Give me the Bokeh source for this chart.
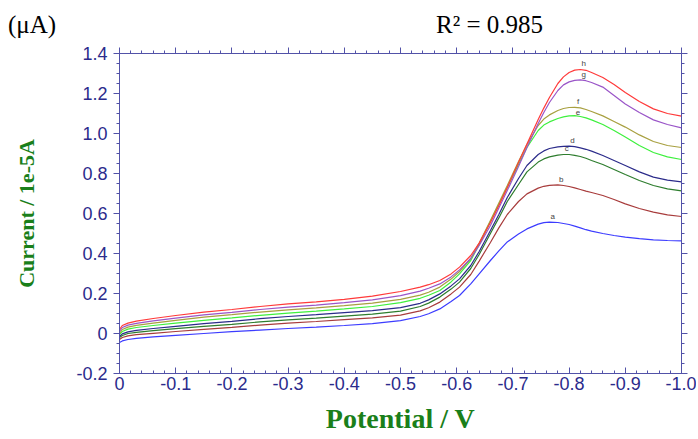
import numpy as np
from bokeh.plotting import figure
from bokeh.models import Range1d, LinearAxis, FixedTicker, CustomJSTickFormatter, ColumnDataSource, Div
from bokeh.layouts import column
from bokeh.core.properties import value
from bokeh.embed import file_html
from bokeh.resources import INLINE

# ---- data ----
potential = [0.0, -0.005, -0.015, -0.03, -0.06, -0.1, -0.15, -0.2, -0.25, -0.3, -0.35, -0.4, -0.45,
             -0.5, -0.535, -0.55, -0.57, -0.59, -0.605, -0.625, -0.64, -0.66, -0.675, -0.69, -0.71,
             -0.725, -0.745, -0.755, -0.765, -0.78, -0.79, -0.80, -0.81, -0.82, -0.83, -0.84,
             -0.86, -0.88, -0.9, -0.925, -0.95, -0.975, -1.0]

curve_a = [-0.045, -0.037, -0.030, -0.024, -0.017, -0.009, 0.000, 0.009, 0.017, 0.025, 0.032, 0.040, 0.049,
           0.064, 0.085, 0.099, 0.123, 0.160, 0.190, 0.248, 0.298, 0.365, 0.413, 0.458, 0.497,
           0.523, 0.547, 0.554, 0.557, 0.555, 0.550, 0.545, 0.537, 0.528, 0.519, 0.512,
           0.500, 0.490, 0.482, 0.474, 0.468, 0.465, 0.463]
curve_b = [-0.030, -0.020, -0.012, -0.006, 0.001, 0.010, 0.021, 0.031, 0.042, 0.052, 0.060, 0.069, 0.078,
           0.092, 0.113, 0.129, 0.157, 0.198, 0.232, 0.295, 0.362, 0.455, 0.528, 0.595, 0.660,
           0.698, 0.727, 0.736, 0.741, 0.743, 0.740, 0.735, 0.728, 0.720, 0.712, 0.705,
           0.690, 0.670, 0.648, 0.625, 0.607, 0.593, 0.585]
curve_c = [-0.020, -0.010, 0.000, 0.006, 0.014, 0.024, 0.036, 0.046, 0.058, 0.068, 0.077, 0.087, 0.097,
           0.112, 0.135, 0.152, 0.182, 0.222, 0.257, 0.325, 0.395, 0.500, 0.578, 0.660, 0.745,
           0.808, 0.857, 0.873, 0.883, 0.892, 0.895, 0.895, 0.891, 0.885, 0.876, 0.865,
           0.845, 0.820, 0.795, 0.765, 0.740, 0.723, 0.713]
curve_d = [-0.015, -0.002, 0.008, 0.016, 0.025, 0.036, 0.049, 0.061, 0.074, 0.085, 0.094, 0.104, 0.114,
           0.129, 0.151, 0.168, 0.198, 0.238, 0.273, 0.340, 0.410, 0.515, 0.595, 0.680, 0.775,
           0.840, 0.895, 0.913, 0.925, 0.933, 0.936, 0.937, 0.934, 0.928, 0.921, 0.912,
           0.890, 0.865, 0.840, 0.808, 0.782, 0.767, 0.758]
curve_e = [-0.005, 0.010, 0.022, 0.030, 0.040, 0.052, 0.066, 0.078, 0.091, 0.102, 0.112, 0.123, 0.135,
           0.154, 0.176, 0.191, 0.215, 0.258, 0.298, 0.365, 0.445, 0.560, 0.645, 0.730, 0.845,
           0.930, 1.015, 1.042, 1.058, 1.075, 1.083, 1.088, 1.089, 1.085, 1.078, 1.068,
           1.045, 1.015, 0.982, 0.940, 0.905, 0.883, 0.870]
curve_f = [0.000, 0.020, 0.032, 0.041, 0.052, 0.066, 0.082, 0.094, 0.107, 0.118, 0.128, 0.139, 0.152,
           0.171, 0.192, 0.206, 0.232, 0.272, 0.310, 0.375, 0.452, 0.565, 0.652, 0.740, 0.860,
           0.945, 1.040, 1.072, 1.093, 1.115, 1.125, 1.130, 1.131, 1.128, 1.120, 1.110,
           1.088, 1.060, 1.032, 0.993, 0.960, 0.940, 0.930]
curve_g = [0.010, 0.030, 0.042, 0.051, 0.063, 0.077, 0.093, 0.106, 0.120, 0.132, 0.142, 0.154, 0.168,
           0.189, 0.212, 0.226, 0.248, 0.283, 0.318, 0.375, 0.440, 0.540, 0.628, 0.715, 0.835,
           0.930, 1.050, 1.105, 1.155, 1.215, 1.243, 1.258, 1.266, 1.268, 1.264, 1.255,
           1.232, 1.190, 1.148, 1.105, 1.068, 1.045, 1.028]
curve_h = [0.020, 0.040, 0.052, 0.062, 0.075, 0.090, 0.107, 0.120, 0.135, 0.148, 0.158, 0.171, 0.187,
           0.210, 0.232, 0.244, 0.265, 0.298, 0.332, 0.390, 0.452, 0.555, 0.640, 0.730, 0.855,
           0.948, 1.070, 1.127, 1.180, 1.250, 1.283, 1.305, 1.317, 1.320, 1.316, 1.305,
           1.280, 1.245, 1.205, 1.160, 1.123, 1.100, 1.087]

curve_names = ["a", "b", "c", "d", "e", "f", "g", "h"]
curve_values = [curve_a, curve_b, curve_c, curve_d, curve_e, curve_f, curve_g, curve_h]
curve_colors = ["#3c3cff", "#a83c3c", "#2e7d2e", "#2b2b8a", "#3ef03e", "#a8a040", "#9a55c8", "#ff3a3a"]

x_ticks = [0.0, -0.1, -0.2, -0.3, -0.4, -0.5, -0.6, -0.7, -0.8, -0.9, -1.0]
y_ticks = [-0.2, 0.0, 0.2, 0.4, 0.6, 0.8, 1.0, 1.2, 1.4]

x_label = "Potential / V"
y_label = "Current / 1e-5A"
unit_text = "(\u03bcA)"
r2_text = "R\u00b2 = 0.985"

W = 696
HEADER_H = 40
FIG_H = 398

# ---- header line with the two texts ----
header = Div(
    text=(f'<div style="position:relative;width:{W}px;height:{HEADER_H}px;'
          'font-family:\'Liberation Serif\';font-size:25px;color:#000;line-height:28px;">'
          f'<span style="position:absolute;left:8px;top:11px;">{unit_text}</span>'
          f'<span style="position:absolute;left:436px;top:11px;">{r2_text}</span></div>'),
    width=W, height=HEADER_H, margin=0)

# ---- figure ----
p = figure(width=W, height=FIG_H, x_range=Range1d(0, -1.0), y_range=Range1d(-0.2, 1.4),
           x_axis_type=None, y_axis_type=None,
           output_backend="svg", toolbar_location=None, margin=0,
           min_border_left=119, min_border_right=15, min_border_top=13, min_border_bottom=65)
p.grid.visible = False
p.outline_line_color = None

axis_color = "#5252a8"
label_color = "#2b2b8c"

x_minor = [round(-i * 0.02, 2) for i in range(51)]
y_minor = [round(-0.2 + i * 0.05, 2) for i in range(33)]
fmt = CustomJSTickFormatter(code="return Math.abs(tick) < 1e-9 ? '0' : tick.toFixed(1);")
blank = CustomJSTickFormatter(code="return '';")

bottom = LinearAxis(ticker=FixedTicker(ticks=x_ticks, minor_ticks=x_minor), formatter=fmt)
top = LinearAxis(ticker=FixedTicker(ticks=x_ticks, minor_ticks=x_minor), formatter=blank)
left = LinearAxis(ticker=FixedTicker(ticks=y_ticks, minor_ticks=y_minor), formatter=fmt)
right = LinearAxis(ticker=FixedTicker(ticks=y_ticks, minor_ticks=y_minor), formatter=blank)

for ax in [bottom, top, left, right]:
    ax.axis_line_color = axis_color
    ax.major_tick_line_color = axis_color
    ax.minor_tick_line_color = axis_color
    ax.major_label_text_color = label_color
    ax.major_label_text_font = "Liberation Sans"
    ax.major_label_text_font_size = "18px"
    ax.major_tick_out = 6
    ax.major_tick_in = 0
    ax.minor_tick_out = 3
    ax.minor_tick_in = 0

bottom.major_tick_out = 0
bottom.major_tick_in = 6
bottom.minor_tick_out = 0
bottom.minor_tick_in = 3
bottom.major_label_standoff = 3
bottom.axis_label = x_label
bottom.axis_label_text_font = "Liberation Serif"
bottom.axis_label_text_font_style = "bold"
bottom.axis_label_text_font_size = "28px"
bottom.axis_label_text_color = "#1a7f1a"
bottom.axis_label_standoff = 10

left.major_label_standoff = 6
left.axis_label = y_label
left.axis_label_text_font = "Liberation Serif"
left.axis_label_text_font_style = "bold"
left.axis_label_text_font_size = "22px"
left.axis_label_text_color = "#1a7f1a"
left.axis_label_standoff = 34

for ax in [top, right]:
    ax.major_label_text_font_size = "0px"
    ax.major_label_standoff = 0

p.add_layout(bottom, "below")
p.add_layout(left, "left")
p.add_layout(top, "above")
p.add_layout(right, "right")

# ---- curves ----
for name, vals, col in zip(curve_names, curve_values, curve_colors):
    src = ColumnDataSource(dict(x=potential, y=vals))
    p.line("x", "y", source=src, line_color=col, line_width=1.2)

# peak letters, placed from each curve's maximum
lx, ly = [], []
for vals in curve_values:
    i = int(np.argmax(vals))
    lx.append(potential[i] - 0.006)
    ly.append(vals[i] + 0.006)
p.text(x=lx, y=ly, text=curve_names, text_font=value("Liberation Sans"), text_font_size="8px",
       text_color="#444444", text_align="center", text_baseline="bottom")

layout = column(header, p, spacing=0, margin=0)
open("out.html", "w").write(file_html(layout, INLINE))
